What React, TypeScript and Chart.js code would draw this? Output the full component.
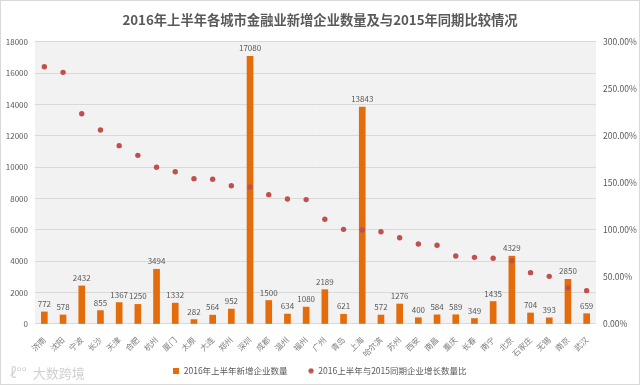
import React, { useEffect, useRef } from "react";
import { Chart, registerables } from "chart.js";

Chart.register(...registerables);

const TITLE = "2016年上半年各城市金融业新增企业数量及与2015年同期比较情况";
const cities = ["济南", "沈阳", "宁波", "长沙", "天津", "合肥", "杭州", "厦门", "太原", "大连", "郑州", "深圳", "成都", "温州", "福州", "广州", "青岛", "上海", "哈尔滨", "苏州", "西安", "南昌", "重庆", "长春", "南宁", "北京", "石家庄", "无锡", "南京", "武汉"];
const newFirms = [772, 578, 2432, 855, 1367, 1250, 3494, 1332, 282, 564, 952, 17080, 1500, 634, 1080, 2189, 621, 13843, 572, 1276, 400, 584, 589, 349, 1435, 4329, 704, 393, 2850, 659];
const growthPct = [273.7, 267.7, 223.7, 206.4, 189.7, 179.4, 166.7, 162, 154.6, 153.9, 147.1, 145.7, 137.6, 133, 132.3, 111.4, 100.7, 100, 98.2, 91.8, 85.1, 83.7, 72.3, 70.9, 69.9, 67.4, 54.6, 50.7, 38.6, 35.5];
const leftMax = 18000;
const leftStep = 2000;
const rightMax = 300;
const rightStep = 50;
const barLabel = "2016年上半年新增企业数量";
const dotLabel = "2016上半年与2015同期企业增长数量比";

const ORANGE = "#E46C0A";
const RED = "#C0504D";
const FONT = '"Noto Sans CJK SC", "Noto Sans", sans-serif';

export default function App() {
  const ref = useRef<HTMLCanvasElement>(null);
  useEffect(() => {
    const sq = document.createElement("canvas");
    sq.width = 6; sq.height = 6;
    const sc = sq.getContext("2d")!;
    sc.fillStyle = ORANGE; sc.fillRect(0, 0, 6, 6);
    const dot = document.createElement("canvas");
    dot.width = 6; dot.height = 6;
    const dc = dot.getContext("2d")!;
    dc.fillStyle = RED; dc.beginPath(); dc.arc(3, 3, 2.6, 0, Math.PI * 2); dc.fill();

    const bgPlugin = {
      id: "bg",
      beforeDraw(chart: any) {
        const { ctx, chartArea: a, width, height } = chart;
        ctx.save();
        ctx.fillStyle = "#ffffff";
        ctx.fillRect(0, 0, width, height);
        ctx.fillStyle = "#F2F2F2";
        ctx.fillRect(a.left, a.top, a.right - a.left, a.bottom - a.top);
        ctx.restore();
      },
      afterDraw(chart: any) {
        const { ctx, width, height } = chart;
        ctx.save();
        ctx.strokeStyle = "#D9D9D9";
        ctx.lineWidth = 1;
        ctx.strokeRect(0.5, 0.5, width - 1, height - 1);
        ctx.restore();
      },
    };
    const labelPlugin = {
      id: "barLabels",
      afterDatasetsDraw(chart: any) {
        const { ctx } = chart;
        const meta = chart.getDatasetMeta(0);
        ctx.save();
        ctx.font = `8px ${FONT}`;
        ctx.fillStyle = "#595959";
        ctx.textAlign = "center";
        ctx.textBaseline = "bottom";
        meta.data.forEach((el: any, i: number) => {
          ctx.fillText(String(newFirms[i]), el.x, el.y - 4);
        });
        ctx.restore();
      },
    };

    const chart = new Chart(ref.current!, {
      type: "bar",
      data: {
        labels: cities,
        datasets: [
          {
            type: "bar",
            label: barLabel,
            data: newFirms,
            backgroundColor: ORANGE,
            barThickness: 6,
            yAxisID: "y",
            order: 1,
          } as any,
          {
            type: "line",
            label: dotLabel,
            data: growthPct,
            showLine: false,
            pointRadius: 2.7,
            pointBorderWidth: 0,
            pointBackgroundColor: RED,
            borderColor: RED,
            backgroundColor: RED,
            yAxisID: "y1",
            order: 0,
          } as any,
        ],
      },
      options: {
        animation: false,
        responsive: false,
        maintainAspectRatio: false,
        layout: { padding: { top: 2, left: 1, right: 1, bottom: 0 } },
        plugins: {
          tooltip: { enabled: false },
          title: {
            display: true,
            text: TITLE,
            color: "#595959",
            font: { size: 13.3, weight: "bold", family: FONT },
            padding: { top: 10, bottom: 14 },
          },
          legend: {
            position: "bottom",
            labels: {
              usePointStyle: true,
              boxWidth: 6,
              boxHeight: 6,
              padding: 10,
              color: "#595959",
              font: { size: 8.5, family: FONT },
              generateLabels: (c: any) => {
                const items = (Chart.defaults.plugins.legend.labels as any).generateLabels(c);
                items.sort((a: any, b: any) => a.datasetIndex - b.datasetIndex);
                items.forEach((it: any) => {
                  if (it.datasetIndex === 0) {
                    it.pointStyle = sq;
                    it.text = it.text + "\u3000 ";
                  } else {
                    it.pointStyle = dot;
                  }
                });
                return items;
              },
            },
          },
        },
        scales: {
          x: {
            grid: { display: false },
            border: { display: false },
            ticks: {
              autoSkip: false,
              minRotation: 45,
              maxRotation: 45,
              padding: 3,
              color: "#7F7F7F",
              font: { size: 8, family: FONT },
            },
            afterFit: (s: any) => { s.height = 32.5; },
          },
          y: {
            position: "left",
            min: 0,
            max: leftMax,
            ticks: {
              stepSize: leftStep,
              padding: 7,
              color: "#595959",
              font: { size: 8, family: FONT },
              callback: (v: any) => String(v),
            },
            grid: { color: "#D9D9D9", drawTicks: false },
            border: { display: false },
            afterFit: (s: any) => { s.width = 34; },
          },
          y1: {
            position: "right",
            min: 0,
            max: rightMax,
            ticks: {
              stepSize: rightStep,
              padding: 7,
              color: "#595959",
              font: { size: 8.5, family: FONT },
              callback: (v: any) => Number(v).toFixed(2) + "%",
            },
            grid: { display: false, drawTicks: false },
            border: { display: false },
            afterFit: (s: any) => { s.width = 43; },
          },
        },
      } as any,
      plugins: [bgPlugin, labelPlugin],
    });
    return () => chart.destroy();
  }, []);

  return (
    <div style={{ position: "absolute", left: 0, top: 0, width: 640, height: 385 }}>
      <canvas ref={ref} width={640} height={385} style={{ width: 640, height: 385, display: "block" }} />
      <div
        style={{
          position: "absolute",
          left: 10,
          top: 362,
          fontFamily: FONT,
          fontSize: 13,
          color: "#D0D0D0",
          letterSpacing: 0,
          whiteSpace: "nowrap",
        }}
      >
        <span style={{ fontSize: 14, marginRight: 6 }}>ℓ°°</span>大数跨境
      </div>
    </div>
  );
}
